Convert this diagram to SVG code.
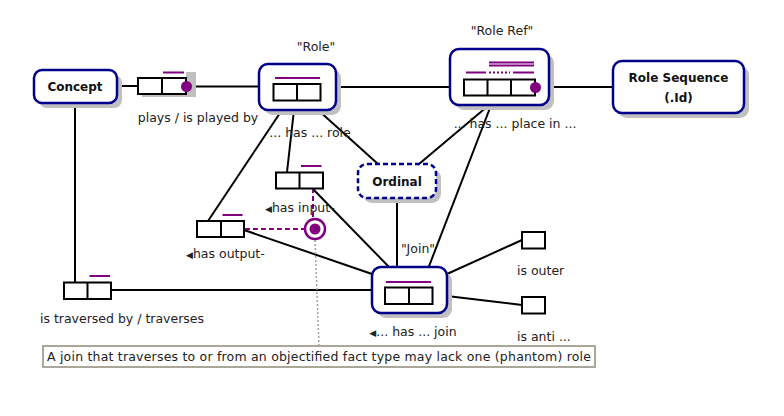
<svg xmlns="http://www.w3.org/2000/svg" width="784" height="416" viewBox="0 0 784 416">
<defs>
<style>
.ent{fill:#fff;stroke:#00008b;stroke-width:2.5}
.dash{stroke-dasharray:5 3}
.shd{fill:#c0c0c0;stroke:none}
.role{fill:#fff;stroke:#000;stroke-width:2}
.uc{stroke:#800080;stroke-width:2;fill:none}
.ln{stroke:#000;stroke-width:2;fill:none}
.t{font-family:"DejaVu Sans",Verdana,sans-serif;font-size:12.5px;fill:#222}
.b{font-family:"DejaVu Sans",Verdana,sans-serif;font-size:12px;font-weight:bold;fill:#111}
.tri{font-size:9px}
</style>
</defs>
<rect width="784" height="416" fill="#fff"/>
<g id="connectors">
<line class="ln" x1="117" y1="86" x2="138" y2="86"/>
<line class="ln" x1="190" y1="86.5" x2="259" y2="86.5"/>
<line class="ln" x1="336" y1="87" x2="450" y2="87"/>
<line class="ln" x1="540" y1="87" x2="613" y2="87"/>
<line class="ln" x1="75" y1="103" x2="75" y2="282"/>
<line class="ln" x1="111" y1="290" x2="372" y2="290"/>
<line class="ln" x1="288" y1="101" x2="208" y2="221"/>
<line class="ln" x1="295" y1="101" x2="287" y2="172"/>
<line class="ln" x1="308" y1="101" x2="378" y2="164"/>
<line class="ln" x1="312" y1="188" x2="390" y2="268"/>
<line class="ln" x1="244" y1="230" x2="372" y2="274"/>
<line class="ln" x1="397" y1="198" x2="397" y2="287"/>
<line class="ln" x1="501" y1="95" x2="419" y2="164"/>
<line class="ln" x1="495" y1="95" x2="421" y2="287"/>
<line class="ln" x1="447" y1="274" x2="522" y2="240"/>
<line class="ln" x1="447" y1="296" x2="522" y2="305"/>
<line x1="245" y1="229" x2="304" y2="229" stroke="#800080" stroke-width="2" stroke-dasharray="5 3"/>
<line x1="313" y1="188" x2="313" y2="218" stroke="#800080" stroke-width="2" stroke-dasharray="5 3"/>
<line x1="315" y1="240" x2="319" y2="346" stroke="#a0a0a0" stroke-width="1.5" stroke-dasharray="2 2"/>
</g>
<g id="concept">
<rect class="shd" x="39" y="75" width="83" height="33" rx="8"/>
<rect class="ent" x="34" y="70" width="83" height="33" rx="8"/>
<text class="b" x="75" y="90.5" text-anchor="middle">Concept</text>
</g>
<g id="plays">
<path class="shd" d="M186 72H196V97H142V94H186Z"/>
<rect class="role" x="138" y="78" width="48" height="16"/>
<line class="ln" x1="162" y1="78" x2="162" y2="94"/>
<line class="uc" x1="163" y1="72.5" x2="184" y2="72.5"/>
<circle cx="186.5" cy="86.5" r="5.5" fill="#800080"/>
<text class="t" x="198" y="122" text-anchor="middle">plays / is played by</text>
</g>
<g id="role">
<rect class="shd" x="264" y="69" width="77" height="46" rx="9"/>
<rect class="ent" x="259" y="64" width="77" height="46" rx="9"/>
<line class="uc" x1="275" y1="78" x2="320" y2="78"/>
<rect class="role" x="273.5" y="84" width="47" height="16.5"/>
<line class="ln" x1="297" y1="84" x2="297" y2="100.5"/>
<text class="t" x="316" y="51" text-anchor="middle">"Role"</text>
<text class="t" x="310" y="137" text-anchor="middle">... has ... role</text>
</g>
<g id="roleref">
<rect class="shd" x="455" y="54" width="99" height="56" rx="9"/>
<rect class="ent" x="450" y="49" width="99" height="56" rx="9"/>
<line class="uc" x1="489" y1="62.5" x2="534" y2="62.5"/>
<line class="uc" x1="489" y1="65.5" x2="534" y2="65.5"/>
<line class="uc" x1="466" y1="72.5" x2="486" y2="72.5"/>
<line class="uc" x1="489" y1="72.5" x2="510" y2="72.5" stroke-dasharray="2 2"/>
<line class="uc" x1="513" y1="72.5" x2="534" y2="72.5"/>
<rect class="role" x="464" y="79.5" width="71" height="16"/>
<line class="ln" x1="487.5" y1="79.5" x2="487.5" y2="95.5"/>
<line class="ln" x1="511" y1="79.5" x2="511" y2="95.5"/>
<circle cx="535.5" cy="87.5" r="5.5" fill="#800080"/>
<text class="t" x="502" y="35" text-anchor="middle">"Role Ref"</text>
<text class="t" x="515" y="128" text-anchor="middle">... has ... place in ...</text>
</g>
<g id="rolesequence">
<rect class="shd" x="618" y="66" width="131" height="52" rx="9"/>
<rect class="ent" x="613" y="61" width="131" height="52" rx="9"/>
<text class="b" x="678.5" y="82" text-anchor="middle">Role Sequence</text>
<text class="b" x="678.5" y="102" text-anchor="middle">(.Id)</text>
</g>
<g id="ordinal">
<rect class="shd" x="363" y="169" width="78" height="34" rx="9"/>
<rect class="ent dash" x="358" y="164" width="78" height="34" rx="9"/>
<text class="b" x="397" y="185.5" text-anchor="middle">Ordinal</text>
</g>
<g id="hasinput">
<rect class="role" x="276" y="172.5" width="47" height="16"/>
<line class="ln" x1="299.5" y1="172.5" x2="299.5" y2="188.5"/>
<line class="uc" x1="301" y1="166" x2="321.5" y2="166"/>
<text class="t" x="265" y="212"><tspan class="tri">◀</tspan>has input-</text>
</g>
<g id="hasoutput">
<rect class="role" x="197" y="221" width="47" height="16"/>
<line class="ln" x1="221" y1="221" x2="221" y2="237"/>
<line class="uc" x1="222.5" y1="215" x2="242.5" y2="215"/>
<text class="t" x="186" y="258"><tspan class="tri">◀</tspan>has output-</text>
</g>
<g id="constraint">
<circle cx="315" cy="229" r="10" fill="#fff" stroke="#800080" stroke-width="2.5"/>
<circle cx="315" cy="229" r="5.5" fill="#800080"/>
</g>
<g id="traverses">
<rect class="role" x="64" y="282.5" width="47" height="16.5"/>
<line class="ln" x1="87.5" y1="282.5" x2="87.5" y2="299"/>
<line class="uc" x1="89.5" y1="276" x2="110" y2="276"/>
<text class="t" x="122" y="323" text-anchor="middle">is traversed by / traverses</text>
</g>
<g id="join">
<rect class="shd" x="377" y="272" width="75" height="46" rx="9"/>
<rect class="ent" x="372" y="267" width="75" height="46" rx="9"/>
<line class="uc" x1="386" y1="282" x2="431" y2="282"/>
<rect class="role" x="385" y="287.5" width="47.5" height="16.5"/>
<line class="ln" x1="409" y1="287.5" x2="409" y2="304"/>
<text class="t" x="418" y="253" text-anchor="middle">"Join"</text>
<text class="t" x="413" y="336" text-anchor="middle"><tspan class="tri">◀</tspan>... has ... join</text>
</g>
<g id="isouter">
<rect class="role" x="522" y="232" width="23" height="16.5"/>
<text class="t" x="517" y="275">is outer</text>
</g>
<g id="isanti">
<rect class="role" x="522" y="297" width="23" height="16.5"/>
<text class="t" x="517" y="341">is anti ...</text>
</g>
<g id="note">
<rect x="43" y="346" width="552" height="21" fill="#fff" stroke="#aaa69a" stroke-width="2"/>
<text class="t" x="47" y="361" textLength="544" lengthAdjust="spacing">A join that traverses to or from an objectified fact type may lack one (phantom) role</text>
</g>
</svg>
